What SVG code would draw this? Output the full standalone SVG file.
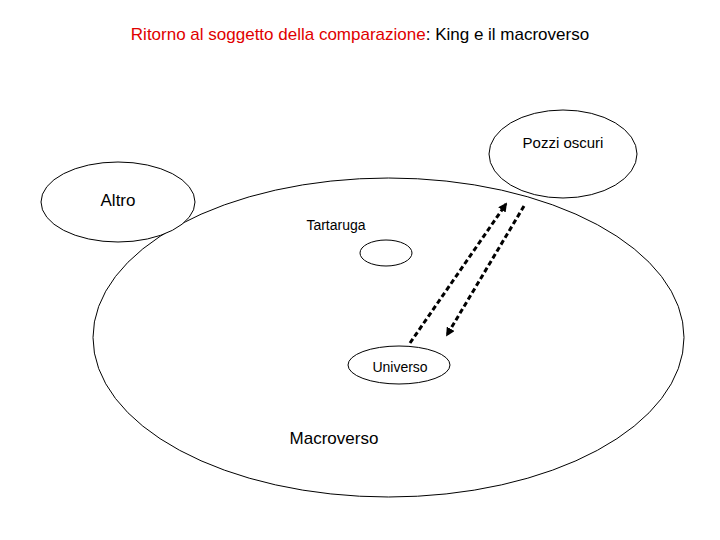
<svg xmlns="http://www.w3.org/2000/svg" width="720" height="540" viewBox="0 0 720 540">
<defs>
<style>
.n{fill:#fff;stroke:#000;stroke-width:1}
text{font-family:"Liberation Sans",Arial,sans-serif;fill:#000}
.c{stroke:#000;stroke-width:3;stroke-dasharray:5 3;fill:none}
</style>
<marker id="ah" viewBox="0 0 10 10" refX="8" refY="5" markerWidth="3" markerHeight="3" orient="auto"><path d="M0,0L10,5L0,10z" fill="#000"/></marker>
</defs>
<rect width="720" height="540" fill="#fff"/>
<text x="360" y="40" font-size="17" text-anchor="middle"><tspan fill="#e00000">Ritorno al soggetto della comparazione</tspan>: King e il macroverso</text>
<g id="macroverso"><ellipse class="n" cx="388.5" cy="337.5" rx="295.5" ry="159.5"/><text x="334" y="444" font-size="17" text-anchor="middle">Macroverso</text></g>
<g id="altro"><ellipse class="n" cx="118" cy="202" rx="77" ry="40"/><text x="118" y="206" font-size="17" text-anchor="middle">Altro</text></g>
<g id="pozzi"><ellipse class="n" cx="563" cy="154" rx="74" ry="44"/><text x="563" y="153" font-size="15" text-anchor="middle" dy="-5">Pozzi oscuri</text></g>
<g id="tartaruga"><text x="336" y="230" font-size="14" text-anchor="middle">Tartaruga</text><ellipse class="n" cx="386" cy="253" rx="26" ry="13"/></g>
<g id="universo"><ellipse class="n" cx="399" cy="365" rx="51" ry="19"/><text x="400" y="372" font-size="14" text-anchor="middle">Universo</text></g>
<g id="connectors">
<line class="c" x1="410" y1="343" x2="506" y2="204" marker-end="url(#ah)"/>
<line class="c" x1="524" y1="206" x2="447" y2="335" marker-end="url(#ah)"/>
</g>
</svg>
